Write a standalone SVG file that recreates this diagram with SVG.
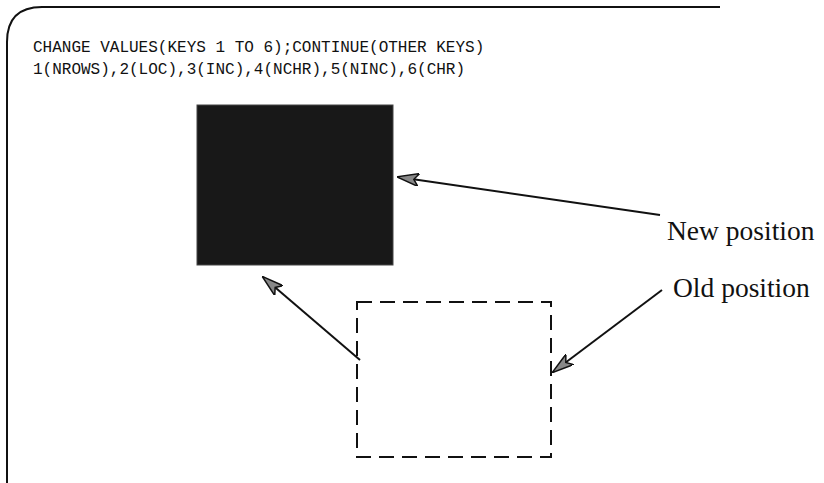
<svg xmlns="http://www.w3.org/2000/svg" width="824" height="483" viewBox="0 0 824 483">
<style>
.mono{font-family:"Liberation Mono","Courier New",monospace;font-size:16px;fill:#111}
.lbl{font-family:"Liberation Serif","Times New Roman",serif;font-size:27.5px;fill:#111}
.ln{stroke:#111;stroke-width:2;fill:none}
</style>
<defs>
<marker id="ah" viewBox="0 0 22 13" refX="21" refY="6.5" markerWidth="22" markerHeight="13" markerUnits="userSpaceOnUse" orient="auto">
<path d="M0,0 L22,6.5 L0,13 L5,6.5 Z" fill="#888" stroke="#111" stroke-width="1.5" stroke-linejoin="miter"/>
</marker>
</defs>
<rect width="824" height="483" fill="#fff"/>
<g id="frame">
<path class="ln" d="M720,7 L42,7 Q7,7 7,42 L7,483" stroke-width="1.6"/>
</g>
<g id="header">
<text class="mono" x="33" y="52">CHANGE VALUES(KEYS 1 TO 6);CONTINUE(OTHER KEYS)</text>
<text class="mono" x="33" y="74">1(NROWS),2(LOC),3(INC),4(NCHR),5(NINC),6(CHR)</text>
</g>
<g id="new-box">
<rect x="197" y="105" width="196" height="160" fill="#181818" stroke="#444" stroke-width="1"/>
</g>
<g id="old-box">
<rect x="357" y="302" width="194" height="155" fill="none" stroke="#111" stroke-width="2" stroke-dasharray="15 8"/>
</g>
<g id="new-label">
<text class="lbl" x="667" y="240">New position</text>
</g>
<g id="old-label">
<text class="lbl" x="673" y="297">Old position</text>
</g>
<g id="connectors">
<line class="ln" x1="660" y1="215" x2="398" y2="177" marker-end="url(#ah)"/>
<line class="ln" x1="662" y1="290" x2="553" y2="372" marker-end="url(#ah)"/>
<line class="ln" x1="360" y1="360" x2="263" y2="277" marker-end="url(#ah)"/>
</g>
</svg>
